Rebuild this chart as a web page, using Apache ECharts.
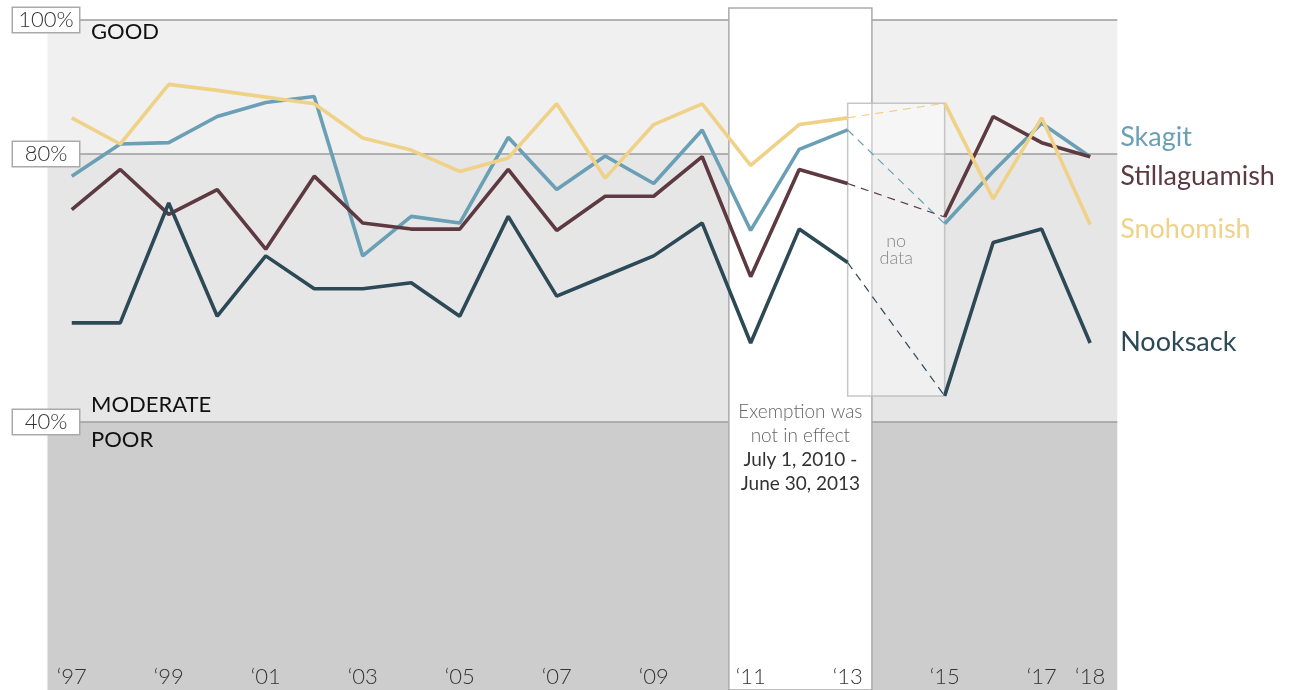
<!DOCTYPE html>
<html>
<head>
<meta charset="utf-8">
<script src="https://cdn.jsdelivr.net/npm/echarts@6/dist/echarts.min.js"></script>
<style>
  html, body { margin: 0; padding: 0; background: #fff; }
  #chart { width: 1293px; height: 690px; }
</style>
</head>
<body>
<div id="chart"></div>
<script>
// 各流域历年水质评分（%），2014 年无数据
const years = [1997, 1998, 1999, 2000, 2001, 2002, 2003, 2004, 2005, 2006, 2007,
  2008, 2009, 2010, 2011, 2012, 2013, 2014, 2015, 2016, 2017, 2018];
const skagit = [76.7, 81.5, 81.7, 85.6, 87.7, 88.6, 64.8, 70.7, 69.7, 82.5, 74.7,
  79.7, 75.6, 83.6, 68.6, 80.7, 83.6, null, 69.6, 77.4, 84.6, 79.6];
const stillaguamish = [71.7, 77.7, 71.0, 74.7, 65.8, 76.7, 69.7, 68.8, 68.8, 77.7, 68.6,
  73.7, 73.7, 79.6, 61.7, 77.7, 75.6, null, 70.6, 85.6, 81.7, 79.6];
const snohomish = [85.4, 81.5, 90.4, 89.5, 88.5, 87.5, 82.4, 80.6, 77.4, 79.4, 87.5,
  76.4, 84.4, 87.5, 78.3, 84.4, 85.4, null, 87.6, 73.3, 85.4, 69.5];
const nooksack = [54.8, 54.8, 72.7, 55.8, 64.8, 59.9, 59.9, 60.8, 55.8, 70.7, 58.8,
  61.8, 64.8, 69.7, 51.8, 68.8, 63.8, null, 43.9, 66.8, 68.8, 51.8];

const xTicks = [1997, 1999, 2001, 2003, 2005, 2007, 2009, 2011, 2013, 2015, 2017, 2018];
const yTicks = [40, 80, 100];
const exemption = [2010.55, 2013.5];  // 豁免未生效期间
const gap = [2013, 2015];             // 无数据区间

const FONT = 'Lato, "Noto Sans", sans-serif';

const rivers = [
  { name: 'Skagit', data: skagit, color: '#6a9fb5', dy: -19 },
  { name: 'Stillaguamish', data: stillaguamish, color: '#5d3a42', dy: 20 },
  { name: 'Snohomish', data: snohomish, color: '#efd288', dy: 5 },
  { name: 'Nooksack', data: nooksack, color: '#2d4956', dy: -1 }
];

const pairs = arr => years.map((y, i) => [y, arr[i]]);
const valAt = (arr, yr) => arr[years.indexOf(yr)];

// 无数据框上下沿取 2015 年各流域的最高/最低值
const gapVals = rivers.map(r => valAt(r.data, gap[1]));
const gapTop = Math.max(...gapVals);
const gapBottom = Math.min(...gapVals);

const chart = echarts.init(document.getElementById('chart'));

const series = [{
  type: 'line', data: [], silent: true,
  markArea: {
    silent: true,
    data: [
      [{
        xAxis: exemption[0],
        itemStyle: { color: '#ffffff', borderColor: '#aaaaaa', borderWidth: 1.5 },
        label: {
          show: true, position: ['50%', 393], align: 'center', verticalAlign: 'top',
          formatter: '{a|Exemption was}\n{a|not in effect}\n{b|July 1, 2010 -}\n{b|June 30, 2013}',
          rich: {
            a: { fontFamily: FONT, fontSize: 19, fontWeight: 300, color: '#666', lineHeight: 24, align: 'center' },
            b: { fontFamily: FONT, fontSize: 19, fontWeight: 400, color: '#333', lineHeight: 24, align: 'center' }
          }
        }
      }, { xAxis: exemption[1] }],
      [{
        xAxis: gap[0], yAxis: gapBottom,
        itemStyle: { color: 'rgba(255,255,255,0.4)', borderColor: 'rgba(185,185,185,0.8)', borderWidth: 1.5 },
        label: {
          show: true, position: 'inside', formatter: 'no\ndata',
          fontFamily: FONT, fontSize: 18, fontWeight: 300, color: '#888', lineHeight: 17
        }
      }, { xAxis: gap[1], yAxis: gapTop }]
    ]
  }
}];

// 缺失年份用细虚线连接
rivers.forEach(r => {
  series.push({
    name: r.name + '-gap', type: 'line', silent: true, symbol: 'none',
    data: gap.map(y => [y, valAt(r.data, y)]),
    lineStyle: { color: r.color, width: 1.2, type: [8, 6] }
  });
});

rivers.forEach(r => {
  series.push({
    name: r.name, type: 'line', symbol: 'none', data: pairs(r.data),
    lineStyle: { color: r.color, width: 3.6 },
    itemStyle: { color: r.color },
    endLabel: {
      show: true, formatter: '{a}', distance: 0, offset: [30, r.dy],
      color: r.color, fontFamily: FONT, fontSize: 27
    }
  });
});

chart.setOption({
  animation: false,
  textStyle: { fontFamily: FONT },
  grid: { left: 47.5, right: 175.7, top: 8, height: 684 },
  xAxis: {
    type: 'value', min: 1996.5, max: 2018.56, z: 3,
    axisLine: { show: false }, axisTick: { show: false }, splitLine: { show: false },
    axisLabel: {
      customValues: xTicks, inside: true, margin: 2,
      formatter: v => '\u2018' + String(v).slice(2),
      fontFamily: FONT, fontSize: 22, fontWeight: 300, color: '#333'
    }
  },
  yAxis: {
    type: 'value', min: 0, max: 101.8, interval: 20,
    axisLine: { show: false }, axisTick: { show: false },
    splitArea: {
      show: true,
      areaStyle: { color: ['#cdcdcd', '#cdcdcd', '#e6e6e6', '#e6e6e6', '#f0f0f0', 'rgba(0,0,0,0)'] }
    },
    splitLine: {
      show: true,
      lineStyle: { width: 1.5, color: ['rgba(0,0,0,0)', 'rgba(0,0,0,0)', '#9d9d9d', 'rgba(0,0,0,0)', '#9d9d9d', '#9d9d9d', 'rgba(0,0,0,0)'] }
    },
    axisLabel: {
      customValues: yTicks, formatter: '{value}%', margin: 1.5, align: 'center',
      fontFamily: FONT, fontSize: 22, fontWeight: 300, color: '#333',
      backgroundColor: '#fff', borderColor: '#aaa', borderWidth: 1.5,
      width: 66, height: 23, lineHeight: 23, padding: [1, 0, 0, 0]
    }
  },
  series: series
});

// 区间文字
const py = v => chart.convertToPixel({ yAxisIndex: 0 }, v);
const zoneText = (text, y) => ({
  type: 'text', left: 91, top: y - 12, z: 10,
  style: { text: text, fontFamily: FONT, fontSize: 22, fill: '#111' }
});
chart.setOption({
  graphic: [
    zoneText('GOOD', py(100) + 13),
    zoneText('MODERATE', py(40) - 16),
    zoneText('POOR', py(40) + 19)
  ]
});
</script>
</body>
</html>
